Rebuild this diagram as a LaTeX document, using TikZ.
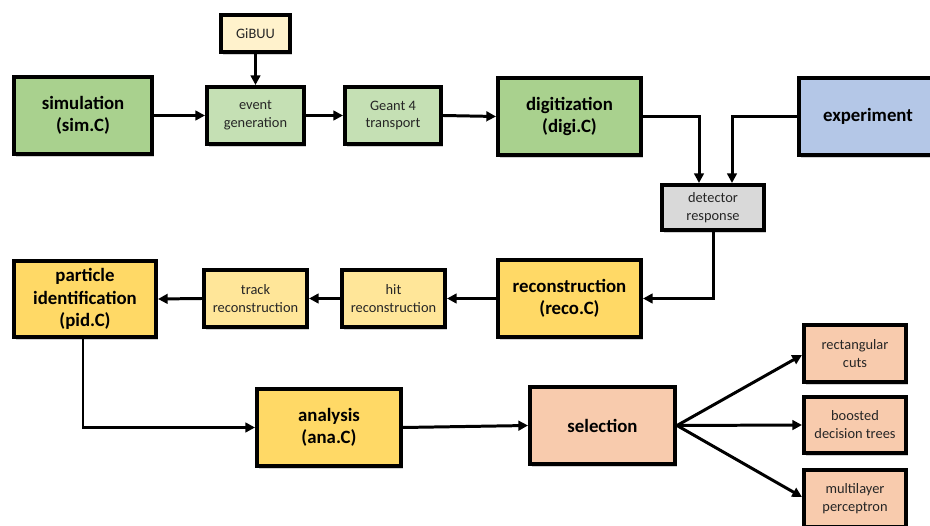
\documentclass[tikz,border=0pt]{standalone}
\usepackage{fontspec}
\setmainfont{Carlito}
\usetikzlibrary{arrows.meta,shadows,calc}

\definecolor{simgreen}{HTML}{A9D18E}
\definecolor{lightgreen}{HTML}{C5E0B4}
\definecolor{paleyellow}{HTML}{FFF2CC}
\definecolor{expblue}{HTML}{B4C7E7}
\definecolor{detgray}{HTML}{D9D9D9}
\definecolor{recoyellow}{HTML}{FFD966}
\definecolor{lightyellow}{HTML}{FFE699}
\definecolor{selorange}{HTML}{F8CBAD}

\tikzset{
  bx/.style 2 args={draw=black, line width=2pt, rectangle, align=center,
    minimum width=#1*0.02cm-2pt, minimum height=#2*0.02cm-2pt, inner sep=1pt,
    drop shadow={shadow xshift=1.2pt, shadow yshift=-1.6pt, fill=black, opacity=0.18}},
  bigtext/.style={font=\fontsize{10.7}{12.8}\selectfont\bfseries},
  smalltext/.style={font=\fontsize{8.2}{10.2}\selectfont, text=black!85},
  conn/.style={line width=1.7pt, -{Triangle[length=5.5pt,width=5.5pt]}},
}

\begin{document}
\begin{tikzpicture}[x=0.02cm, y=-0.02cm]
\useasboundingbox (0,0) rectangle (930,526);

% top row: simulation chain
\node[bx={73}{41}, fill=paleyellow, smalltext] (gibuu) at (255.5,33.5) {GiBUU};
\node[bx={142}{81}, fill=simgreen, bigtext] (sim) at (83,115.5) {simulation\\(sim.C)};
\node[bx={101}{61}, fill=lightgreen, smalltext] (evgen) at (255.5,115.5) {event\\generation};
\node[bx={100}{61}, fill=lightgreen, smalltext] (geant) at (393,115.5) {Geant 4\\transport};
\node[bx={147}{81}, fill=simgreen, bigtext] (digi) at (569.5,116.5) {digitization\\(digi.C)};
\node[bx={142}{81}, fill=expblue, bigtext] (exp) at (868,116.5) {experiment};
\node[bx={106}{49}, fill=detgray, smalltext] (det) at (713,207.5) {detector\\response};

% middle row: reconstruction chain
\node[bx={146}{80}, fill=recoyellow, bigtext] (pid) at (85,299) {particle\\identification\\(pid.C)};
\node[bx={107}{61}, fill=lightyellow, smalltext] (track) at (255.5,298.5) {track\\reconstruction};
\node[bx={107}{61}, fill=lightyellow, smalltext] (hit) at (393.5,298.5) {hit\\reconstruction};
\node[bx={147}{81}, fill=recoyellow, bigtext] (reco) at (569.5,298.5) {reconstruction\\(reco.C)};

% bottom row: analysis and selection methods
\node[bx={148}{81}, fill=recoyellow, bigtext] (ana) at (329,427.5) {analysis\\(ana.C)};
\node[bx={149}{81}, fill=selorange, bigtext] (sel) at (602.5,425.5) {selection};
\node[bx={106}{61}, fill=selorange, smalltext] (rect) at (855,353.5) {rectangular\\cuts};
\node[bx={106}{60}, fill=selorange, smalltext] (bdt) at (855,425) {boosted\\decision trees};
\node[bx={106}{61}, fill=selorange, smalltext] (mlp) at (855,498.5) {multilayer\\perceptron};

% connectors
\draw[conn, line width=2.2pt] (gibuu.south) -- (evgen.north);
\draw[conn] (sim.east) -- (evgen.west);
\draw[conn] (evgen.east) -- (geant.west);
\draw[conn] (geant.east) -- (digi.west);
\draw[conn] (digi.east) -| ($(det.north)+(-14,0)$);
\draw[conn] (exp.west) -| ($(det.north)+(19,0)$);
\draw[conn] (det.south) |- (reco.east);
\draw[conn] (reco.west) -- (hit.east);
\draw[conn] (hit.west) -- (track.east);
\draw[conn] (track.west) -- (pid.east);
\draw[conn] ($(pid.south)+(-2,0)$) |- (ana.west);
\draw[conn] (ana.east) -- (sel.west);
\draw[conn] (sel.east) -- ($(rect.west)+(0,1.5)$);
\draw[conn] (sel.east) -- (bdt.west);
\draw[conn] (sel.east) -- ($(mlp.west)+(0,-1.5)$);
\end{tikzpicture}
\end{document}
